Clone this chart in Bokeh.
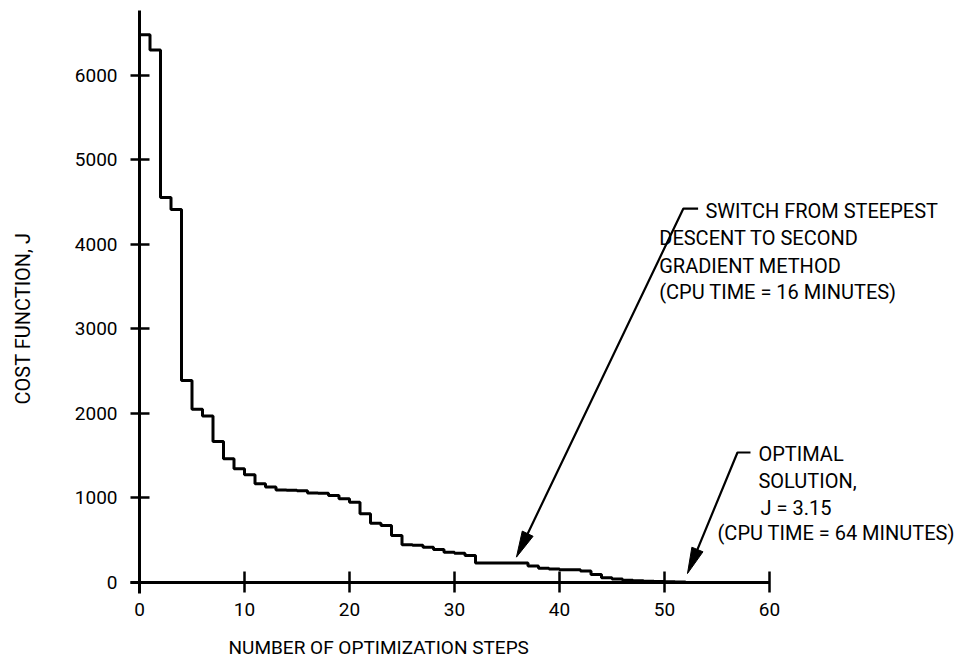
import math
from bokeh.plotting import figure
from bokeh.models import Range1d, Label, FixedTicker
from bokeh.core.properties import value
from bokeh.embed import file_html
from bokeh.resources import INLINE

# ---------------- data ----------------
steps = list(range(53))
cost = [6480, 6300, 4556, 4414, 2390, 2050, 1970, 1669, 1464, 1345,
        1274, 1168, 1130, 1095, 1090, 1085, 1060, 1055, 1030, 990,
        950, 813, 702, 675, 556, 446, 440, 418, 390, 359,
        345, 320, 230, 230, 230, 230, 230, 195, 170, 160,
        150, 150, 135, 95, 56, 40, 28, 22, 16, 12,
        8, 5, 3.15]

x_ticks = [0, 10, 20, 30, 40, 50, 60]
y_ticks = [0, 1000, 2000, 3000, 4000, 5000, 6000]

x_title = "NUMBER OF OPTIMIZATION STEPS"
y_title = "COST FUNCTION, J"

switch_lines = ["SWITCH FROM STEEPEST", "DESCENT TO SECOND", "GRADIENT METHOD",
                "(CPU TIME = 16 MINUTES)"]
switch_x = [53.9, 49.5, 49.5, 49.5]
switch_y = [4400, 4070, 3750, 3431]
switch_arrow = dict(tip=(35.9, 300), top=(51.8, 4424), hook=53.2)

opt_lines = ["OPTIMAL", "SOLUTION,", "J = 3.15", "(CPU TIME = 64 MINUTES)"]
opt_x = [58.95, 58.95, 59.14, 55.05]
opt_y = [1526, 1195, 887, 580]
opt_arrow = dict(tip=(52.19, 106), top=(56.95, 1538), hook=58.19)

# ---------------- layout ----------------
FONT = "Roboto"
W, H = 962, 658
kx, ky = 10.5, 0.08453        # pixels per data unit
OX, OY = 139, 582             # pixel position of the data origin
X0, X1 = -OX / kx, (W - OX) / kx
Y0, Y1 = -(H - OY) / ky, OY / ky

p = figure(width=W, height=H, x_range=Range1d(X0, X1), y_range=Range1d(Y0, Y1),
           output_backend="svg", toolbar_location=None,
           min_border=0, min_border_left=0, min_border_right=0,
           min_border_top=0, min_border_bottom=0)
p.outline_line_color = None
p.grid.visible = False
p.background_fill_color = "white"
p.border_fill_color = "white"

for ax in (p.xaxis[0], p.yaxis[0]):
    ax.fixed_location = 0
    ax.axis_line_width = 3
    ax.axis_line_color = "black"
    ax.major_tick_line_width = 2.5
    ax.major_tick_line_color = "black"
    ax.minor_tick_line_color = None
    ax.major_label_text_font = FONT
    ax.major_label_text_font_size = "19px"
    ax.major_label_text_color = "black"

p.xaxis.ticker = FixedTicker(ticks=x_ticks)
p.yaxis.ticker = FixedTicker(ticks=y_ticks)
p.xaxis.bounds = (-9 / kx, 60)
p.yaxis.bounds = (-11 / ky, (OY - 10) / ky)
p.xaxis.major_tick_in = 11
p.xaxis.major_tick_out = 10
p.xaxis.major_label_standoff = 10
p.yaxis.major_tick_in = 10
p.yaxis.major_tick_out = 9
p.yaxis.major_label_standoff = 13

# cost curve
p.step(steps, cost, mode="after", line_width=3, line_color="black")

# axis titles
p.add_layout(Label(x=8.48, y=-769, text=x_title, text_font=FONT, text_font_size="19px",
                   text_align="left", text_baseline="middle", text_color="black"))
p.add_layout(Label(x=-11.14, y=3123, text=y_title, text_font=FONT, text_font_size="20px",
                   text_align="center", text_baseline="middle", angle=math.pi / 2,
                   text_color="black"))


def draw_arrow(a):
    tx, ty = a["tip"]
    ux, uy = a["top"]
    dx, dy = (ux - tx) * kx, (uy - ty) * ky
    n = math.hypot(dx, dy)
    dx, dy = dx / n, dy / n
    L, w = 26, 6
    bx, by = L * dx, L * dy
    px_, py_ = -dy * w, dx * w
    xs = [tx, tx + (bx + px_) / kx, tx + (bx - px_) / kx]
    ys = [ty, ty + (by + py_) / ky, ty + (by - py_) / ky]
    p.patch(xs, ys, fill_color="black", line_color="black", line_width=1)
    p.line([tx + (L - 2) * dx / kx, ux, a["hook"]], [ty + (L - 2) * dy / ky, uy, uy],
           line_width=2.2, line_color="black")


draw_arrow(switch_arrow)
draw_arrow(opt_arrow)

for t, x, y in zip(switch_lines, switch_x, switch_y):
    p.add_layout(Label(x=x, y=y, text=t, text_font=FONT, text_font_size="20px",
                       text_align="left", text_baseline="middle", text_color="black"))
for t, x, y in zip(opt_lines, opt_x, opt_y):
    p.add_layout(Label(x=x, y=y, text=t, text_font=FONT, text_font_size="20px",
                       text_align="left", text_baseline="middle", text_color="black"))

open("out.html", "w").write(file_html(p, INLINE))
